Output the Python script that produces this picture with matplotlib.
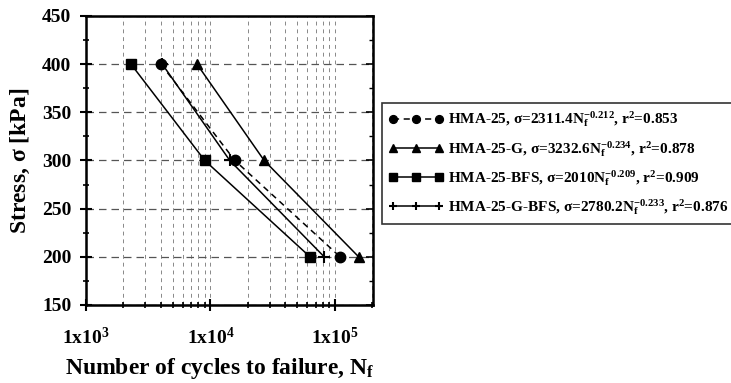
import matplotlib
matplotlib.use('Agg')
import matplotlib.pyplot as plt
import numpy as np
from matplotlib.ticker import LogLocator, MultipleLocator, NullFormatter

plt.rcParams['font.family'] = 'Liberation Serif'
plt.rcParams['font.weight'] = 'bold'
plt.rcParams['mathtext.fontset'] = 'custom'
plt.rcParams['mathtext.rm'] = 'Liberation Serif:bold'
plt.rcParams['mathtext.it'] = 'Liberation Serif:bold'
plt.rcParams['mathtext.bf'] = 'Liberation Serif:bold'

stress = [400, 300, 200]
n_hma25 = [4000, 15700, 110000]
n_hma25_g = [7800, 27000, 155000]
n_hma25_bfs = [2300, 9000, 63000]
n_hma25_g_bfs = [4100, 14300, 82000]

labels = [r'HMA-25, $\sigma$=2311.4N$_f^{-0.212}$, r$^2$=0.853',
          r'HMA-25-G, $\sigma$=3232.6N$_f^{-0.234}$, r$^2$=0.878',
          r'HMA-25-BFS, $\sigma$=2010N$_f^{-0.209}$, r$^2$=0.909',
          r'HMA-25-G-BFS, $\sigma$=2780.2N$_f^{-0.233}$, r$^2$=0.876']

fig = plt.figure(figsize=(7.31, 3.83), dpi=100)
ax = fig.add_axes([0.1176, 0.2037, 0.3926, 0.7546])

ax.plot(n_hma25, stress, color='black', ls=(0, (4, 3)), lw=1.1, marker='o', ms=7.5, label=labels[0])
ax.plot(n_hma25_g, stress, color='black', ls='-', lw=1.1, marker='^', ms=7, label=labels[1])
ax.plot(n_hma25_bfs, stress, color='black', ls='-', lw=1.1, marker='s', ms=7, label=labels[2])
ax.plot(n_hma25_g_bfs, stress, color='black', ls='-', lw=1.1, marker='+', ms=8.5, mew=1.5, label=labels[3])

ax.set_xscale('log')
ax.set_xlim(1000, 2.02e5)
ax.set_ylim(150, 450)
ax.set_xticks([1e3, 1e4, 1e5])
ax.set_xticklabels(['1x10$^3$', '1x10$^4$', '1x10$^5$'])
ax.xaxis.set_minor_locator(LogLocator(base=10, subs=np.arange(2, 10)))
ax.xaxis.set_minor_formatter(NullFormatter())
ax.yaxis.set_major_locator(MultipleLocator(50))
ax.yaxis.set_minor_locator(MultipleLocator(25))

ax.grid(True, axis='y', which='major', color='#555555', ls=(0, (6, 4)), lw=0.9)
ax.grid(True, axis='x', which='both', color='#888888', ls=(0, (4, 4)), lw=0.7)

for s in ax.spines.values():
    s.set_linewidth(1.8)
ax.tick_params(axis='both', which='major', direction='inout', length=9, width=1.5, labelsize=14)
ax.tick_params(axis='y', which='major', pad=6)
ax.tick_params(axis='x', which='major', pad=11)
ax.tick_params(axis='both', which='minor', direction='inout', length=5, width=1.2)

# inward ticks on the right spine
ax_r = ax.twinx()
ax_r.set_ylim(150, 450)
ax_r.yaxis.set_major_locator(MultipleLocator(50))
ax_r.yaxis.set_minor_locator(MultipleLocator(25))
ax_r.tick_params(axis='y', which='major', direction='in', length=5, width=1.2, labelright=False)
ax_r.tick_params(axis='y', which='minor', direction='in', length=3, width=1.0)

ax.set_ylabel(r'Stress, $\sigma$ [kPa]', fontsize=17, fontweight='bold', labelpad=7)
fig.text(0.301, 0.038, r'Number of cycles to failure, N$_f$', fontsize=17, fontweight='bold', ha='center', va='center')

leg = ax.legend(loc='upper left', bbox_to_anchor=(0.5226, 0.732), bbox_transform=fig.transFigure,
                numpoints=3, fontsize=11, markerscale=0.75,
                frameon=True, fancybox=False, edgecolor='black', handlelength=3.6,
                handletextpad=0.25, borderpad=0.45, labelspacing=0.6, borderaxespad=0)
leg.get_frame().set_linewidth(1.2)

fig.savefig('out.png', dpi=100)
